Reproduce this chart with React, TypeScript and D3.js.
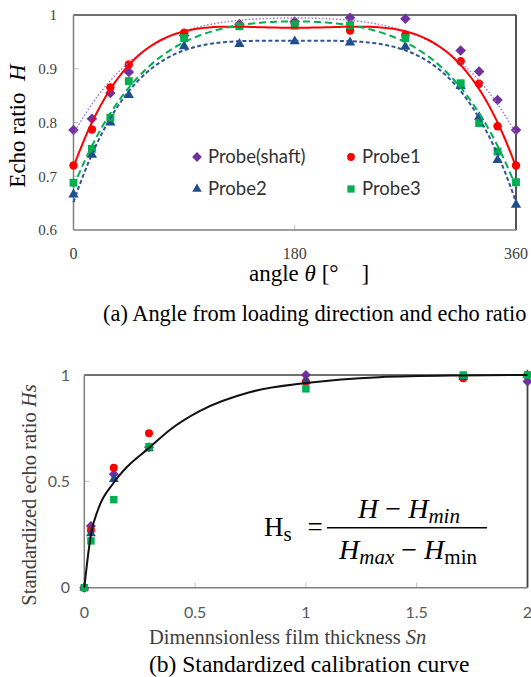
import React from "react";
import * as d3 from "d3";

// (a) echo ratio vs angle
const angles = [0, 15, 30, 45, 90, 135, 180, 225, 270, 315, 330, 345, 360];
const shaftEcho = [0.786, 0.807, 0.855, 0.894, 0.962, 0.983, 0.988, 0.995, 0.993, 0.934, 0.895, 0.842, 0.786];
const probe1Echo = [0.72, 0.787, 0.865, 0.908, 0.967, 0.98, 0.984, 0.971, 0.963, 0.914, 0.872, 0.793, 0.72];
const probe2Echo = [0.666, 0.74, 0.8, 0.851, 0.942, 0.946, 0.951, 0.949, 0.941, 0.868, 0.81, 0.73, 0.647];
const probe3Echo = [0.688, 0.751, 0.809, 0.877, 0.957, 0.979, 0.98, 0.981, 0.957, 0.873, 0.799, 0.746, 0.689];
const angleTicks = [0, 180, 360];
const echoTicks = [0.6, 0.7, 0.8, 0.9, 1];

// (b) standardized calibration curve
const snValues = [0, 0.03, 0.133, 0.292, 1.0, 1.71, 2.0];
const shaftHs = [0, 0.29, 0.533, 0.66, 1.0, 0.99, 0.97];
const probe1Hs = [0, 0.27, 0.564, 0.726, 0.97, 0.985, 1.0];
const probe2Hs = [0, 0.255, 0.51, 0.655, 0.97, 0.99, 1.0];
const probe3Hs = [0, 0.22, 0.414, 0.663, 0.935, 1.0, 1.0];
const curveSn = [0, 0.03, 0.063, 0.13, 0.19, 0.29, 0.39, 0.52, 0.75, 1.0, 1.33, 1.7, 2.0];
const curveHs = [0, 0.25, 0.37, 0.49, 0.565, 0.655, 0.745, 0.83, 0.92, 0.962, 0.99, 0.998, 1.0];
const snTicks = [0, 0.5, 1, 1.5, 2];
const hsTicks = [0, 0.5, 1];

const seriesNames = ["Probe(shaft)", "Probe1", "Probe2", "Probe3"];

const SERIF = '"Liberation Serif", "Times New Roman", serif';
const SANS = 'Lato, "Open Sans", sans-serif';

const styles = [
  { color: "#7030a0", shape: "diamond", line: "#9575c8", width: 1.4, dash: "1.5 2" },
  { color: "#ff0000", shape: "circle", line: "#ff0000", width: 2, dash: "" },
  { color: "#1f4e8c", shape: "triangle", line: "#2f5597", width: 2, dash: "4 2.5" },
  { color: "#00b050", shape: "square", line: "#00b050", width: 2, dash: "7 4" },
];

function Marker({ x, y, shape, color, s = 1 }: any) {
  let d: string;
  let rot = "";
  if (shape === "diamond") {
    d = d3.symbol(d3.symbolSquare, 56 * s)()!;
    rot = " rotate(45)";
  } else if (shape === "circle") {
    d = d3.symbol(d3.symbolCircle, 56 * s)()!;
  } else if (shape === "triangle") {
    d = d3.symbol(d3.symbolTriangle, 46 * s)()!;
  } else {
    d = d3.symbol(d3.symbolSquare, 62 * s)()!;
  }
  return <path d={d} transform={`translate(${x},${y})${rot}`} fill={color} />;
}

// least squares polynomial trend line
function polyfit(xs: number[], ys: number[], deg: number) {
  const n = deg + 1;
  const A = Array.from({ length: n }, () => new Array(n + 1).fill(0));
  xs.forEach((x, k) => {
    for (let i = 0; i < n; i++) {
      for (let j = 0; j < n; j++) A[i][j] += Math.pow(x, i + j);
      A[i][n] += ys[k] * Math.pow(x, i);
    }
  });
  for (let c = 0; c < n; c++) {
    let p = c;
    for (let r = c + 1; r < n; r++) if (Math.abs(A[r][c]) > Math.abs(A[p][c])) p = r;
    [A[c], A[p]] = [A[p], A[c]];
    for (let r = 0; r < n; r++) {
      if (r === c) continue;
      const f = A[r][c] / A[c][c];
      for (let k = c; k <= n; k++) A[r][k] -= f * A[c][k];
    }
  }
  const coef = A.map((row, i) => row[n] / row[i]);
  return (x: number) => coef.reduce((s, c, i) => s + c * Math.pow(x, i), 0);
}

export default function App() {
  // chart (a)
  const xA = d3.scaleLinear().domain([0, 360]).range([73.5, 516]);
  const yA = d3.scaleLinear().domain([0.6, 1]).range([230, 15]);
  const echoSeries = [shaftEcho, probe1Echo, probe2Echo, probe3Echo];
  // symmetric trend: even polynomial in (θ-180)/180
  const u = (a: number) => Math.pow((a - 180) / 180, 2);
  const samples = d3.range(0, 360.001, 2);
  const trend = echoSeries.map((vals) => {
    const f = polyfit(angles.map(u), vals, 2);
    return d3
      .line<number>()
      .x((a) => xA(a))
      .y((a) => yA(f(u(a))))(samples)!;
  });

  // chart (b)
  const xB = d3.scaleLinear().domain([0, 2]).range([84.3, 527.5]);
  const yB = d3.scaleLinear().domain([0, 1]).range([587.7, 375]);
  const hsSeries = [shaftHs, probe1Hs, probe2Hs, probe3Hs];
  const fitPath = d3
    .line<number>()
    .x((_, i) => xB(curveSn[i]))
    .y((v) => yB(v))
    .curve(d3.curveMonotoneX)(curveHs)!;

  return (
    <svg
      width={531}
      height={677}
      style={{ position: "absolute", left: 0, top: 0, background: "#fff" }}
    >
      {/* ---------- (a) ---------- */}
      {echoTicks.slice(1, -1).map((t) => (
        <line key={t} x1={xA(0)} x2={xA(0) + 5} y1={yA(t)} y2={yA(t)} stroke="#bfbfbf" />
      ))}
      <line x1={xA(180)} x2={xA(180)} y1={yA(0.6)} y2={yA(0.6) - 5} stroke="#bfbfbf" />
      <line x1={xA(0)} x2={xA(360)} y1={yA(1)} y2={yA(1)} stroke="#404040" strokeWidth={1.5} />
      <line x1={xA(360)} x2={xA(360)} y1={yA(1)} y2={yA(0.6)} stroke="#404040" strokeWidth={1.8} />
      <line x1={xA(0)} x2={xA(0)} y1={yA(1)} y2={yA(0.6)} stroke="#7f7f7f" strokeWidth={1.5} />
      <line x1={xA(0)} x2={xA(360)} y1={yA(0.6)} y2={yA(0.6)} stroke="#7f7f7f" strokeWidth={1.5} />

      {echoTicks.map((t) => (
        <text key={t} x={57} y={yA(t)} dy="0.35em" textAnchor="end" fontFamily={SERIF} fontSize={15} fill="#404040">
          {t}
        </text>
      ))}
      {angleTicks.map((t) => (
        <text key={t} x={xA(t)} y={259} textAnchor="middle" fontFamily={SERIF} fontSize={16} fill="#404040">
          {t}
        </text>
      ))}

      {echoSeries.map((vals, si) =>
        vals.map((v, i) => (
          <Marker key={`${si}-${i}`} x={xA(angles[i])} y={yA(v)} shape={styles[si].shape} color={styles[si].color} />
        ))
      )}
      {trend.map((d, si) => (
        <path
          key={si}
          d={d}
          fill="none"
          stroke={styles[si].line}
          strokeWidth={styles[si].width}
          strokeDasharray={styles[si].dash || undefined}
        />
      ))}

      {seriesNames.map((name, i) => {
        const cx = i % 2 === 0 ? 197 : 351;
        const cy = i < 2 ? 157 : 189;
        return (
          <g key={name}>
            <Marker x={cx} y={cy} shape={styles[i].shape} color={styles[i].color} s={0.85} />
            <text x={cx + 11} y={cy} dy="0.35em" fontFamily={SANS} fontSize={18.5} fill="#333">
              {name}
            </text>
          </g>
        );
      })}

      <text transform="translate(25,126) rotate(-90)" textAnchor="middle" fontFamily={SERIF} fontSize={23}>
        Echo ratio <tspan fontStyle="italic">{"\u00a0H"}</tspan>
      </text>
      <text x={249} y={281} fontFamily={SERIF} fontSize={23}>
        angle <tspan fontStyle="italic">θ</tspan> [°{"\u2003"}]
      </text>
      <text x={103} y={321} fontFamily={SERIF} fontSize={22.4}>
        (a) Angle from loading direction and echo ratio
      </text>

      {/* ---------- (b) ---------- */}
      <line x1={xB(0)} x2={xB(0) + 5} y1={yB(0.5)} y2={yB(0.5)} stroke="#bfbfbf" />
      {snTicks.slice(1, -1).map((t) => (
        <line key={t} x1={xB(t)} x2={xB(t)} y1={yB(0)} y2={yB(0) - 5} stroke="#bfbfbf" />
      ))}
      <line x1={xB(0)} x2={xB(2)} y1={yB(1)} y2={yB(1)} stroke="#404040" strokeWidth={1.5} />
      <line x1={xB(2)} x2={xB(2)} y1={yB(1)} y2={yB(0)} stroke="#404040" strokeWidth={1.8} />
      <line x1={xB(0)} x2={xB(0)} y1={yB(1)} y2={yB(0)} stroke="#7f7f7f" strokeWidth={1.5} />
      <line x1={xB(0)} x2={xB(2)} y1={yB(0)} y2={yB(0)} stroke="#7f7f7f" strokeWidth={1.5} />

      {hsTicks.map((t) => (
        <text key={t} x={70} y={yB(t)} dy="0.35em" textAnchor="end" fontFamily={SANS} fontSize={16} fill="#595959">
          {t}
        </text>
      ))}
      {snTicks.map((t) => (
        <text key={t} x={xB(t)} y={618} textAnchor="middle" fontFamily={SANS} fontSize={16} fill="#595959">
          {t}
        </text>
      ))}

      {hsSeries.map((vals, si) =>
        vals.map((v, i) => (
          <Marker key={`b${si}-${i}`} x={xB(snValues[i])} y={yB(v)} shape={styles[si].shape} color={styles[si].color} s={0.9} />
        ))
      )}
      <path d={fitPath} fill="none" stroke="#111" strokeWidth={2} />

      {/* formula */}
      <text x={264} y={536} fontFamily={SERIF} fontSize={27}>
        H<tspan fontSize={21} dy={5}>s</tspan>
      </text>
      <text x={315} y={536} textAnchor="middle" fontFamily={SERIF} fontSize={27}>=</text>
      <text x={409} y={518} textAnchor="middle" fontFamily={SERIF} fontSize={28}>
        <tspan fontStyle="italic">H</tspan>
        <tspan>{"\u00a0−\u00a0"}</tspan>
        <tspan fontStyle="italic">H</tspan>
        <tspan fontStyle="italic" fontSize={21} dy={5}>min</tspan>
      </text>
      <line x1={327} x2={487} y1={527.7} y2={527.7} stroke="#000" strokeWidth={1.5} />
      <text x={408} y={559} textAnchor="middle" fontFamily={SERIF} fontSize={28}>
        <tspan fontStyle="italic">H</tspan>
        <tspan fontStyle="italic" fontSize={21} dy={5}>max</tspan>
        <tspan dy={-5}>{"\u00a0−\u00a0"}</tspan>
        <tspan fontStyle="italic">H</tspan>
        <tspan fontSize={21} dy={5}>min</tspan>
      </text>

      <text transform="translate(36,495) rotate(-90)" textAnchor="middle" fontFamily={SERIF} fontSize={20.5} fill="#404040">
        Standardized echo ratio <tspan fontStyle="italic">Hs</tspan>
      </text>
      <text x={149} y={644} fontFamily={SERIF} fontSize={20.5} fill="#404040">
        Dimennsionless film thickness <tspan fontStyle="italic">Sn</tspan>
      </text>
      <text x={149} y={672} fontFamily={SERIF} fontSize={23.5}>
        (b) Standardized calibration curve
      </text>
    </svg>
  );
}
